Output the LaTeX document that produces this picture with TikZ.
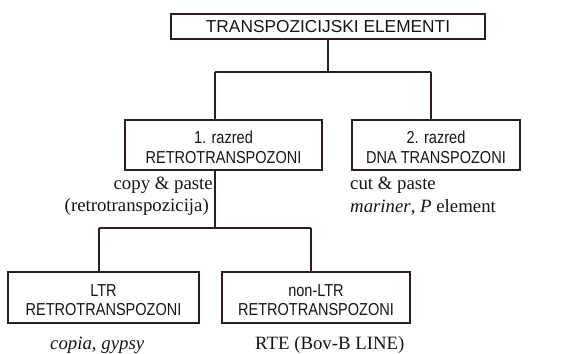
\documentclass[tikz,border=0pt]{standalone}
\usepackage{fontspec}
\setmainfont{Liberation Serif}
\newfontfamily\boxfont[FakeStretch=0.84]{Liberation Sans}
\newfontfamily\topfont{Liberation Sans}
\definecolor{lncol}{RGB}{45,30,30}
\definecolor{txcol}{RGB}{25,20,20}
\newcommand{\tstrut}{\rule{0pt}{17.5pt}}
\begin{document}
\begin{tikzpicture}[x=1pt,y=-1pt,
  box/.style={draw=lncol,line width=1.6pt,rectangle,inner sep=0pt,align=center,
    font=\boxfont\fontsize{17.3}{19.5}\selectfont,text=txcol},
  conn/.style={draw=lncol,line width=1.4pt},
  note/.style={inner sep=0pt,font=\fontsize{18.8}{22}\selectfont,text=txcol}]
\useasboundingbox (0,0) rectangle (574,354);
\node[box,minimum width=314pt,minimum height=25pt,font=\topfont\fontsize{17.3}{20}\selectfont] (top) at (328,26.5) {TRANSPOZICIJSKI ELEMENTI};
\node[box,minimum width=197pt,minimum height=50pt] (r1) at (223.5,145) {\tstrut1. razred\\RETROTRANSPOZONI};
\node[box,minimum width=168pt,minimum height=50pt] (r2) at (436,145) {\tstrut2. razred\\DNA TRANSPOZONI};
\node[box,minimum width=191pt,minimum height=51pt] (ltr) at (103.5,297.5) {\tstrut LTR\\RETROTRANSPOZONI};
\node[box,minimum width=188pt,minimum height=51pt] (nltr) at (316,297.5) {\tstrut non-LTR\\RETROTRANSPOZONI};
\coordinate (j1) at (215,72);
\coordinate (j2) at (431,72);
\coordinate (k1) at (99,228);
\coordinate (k2) at (311,228);
\draw[conn] (top.south) -- (top.south |- j1);
\draw[conn] (j1) -- (j2);
\draw[conn] (j1) -- (j1 |- r1.north);
\draw[conn] (j2) -- (j2 |- r2.north);
\draw[conn] (j1 |- r1.south) -- (j1 |- k1);
\draw[conn] (k1) -- (k2);
\draw[conn] (k1) -- (k1 |- ltr.north);
\draw[conn] (k2) -- (k2 |- nltr.north);
\node[note,anchor=east] (cp1) at (213,185) {copy \& paste};
\node[note,anchor=east] (cp2) at (209,207) {(retrotranspozicija)};
\node[note,anchor=west] (ct1) at (350,185) {cut \& paste};
\node[note,anchor=west] (ct2) at (350,207) {\textit{mariner}, \textit{P} element};
\node[note,anchor=west] (ex1) at (50,345) {\textit{copia, gypsy}};
\node[note,anchor=west] (ex2) at (255,345) {RTE (Bov-B LINE)};
\end{tikzpicture}
\end{document}
